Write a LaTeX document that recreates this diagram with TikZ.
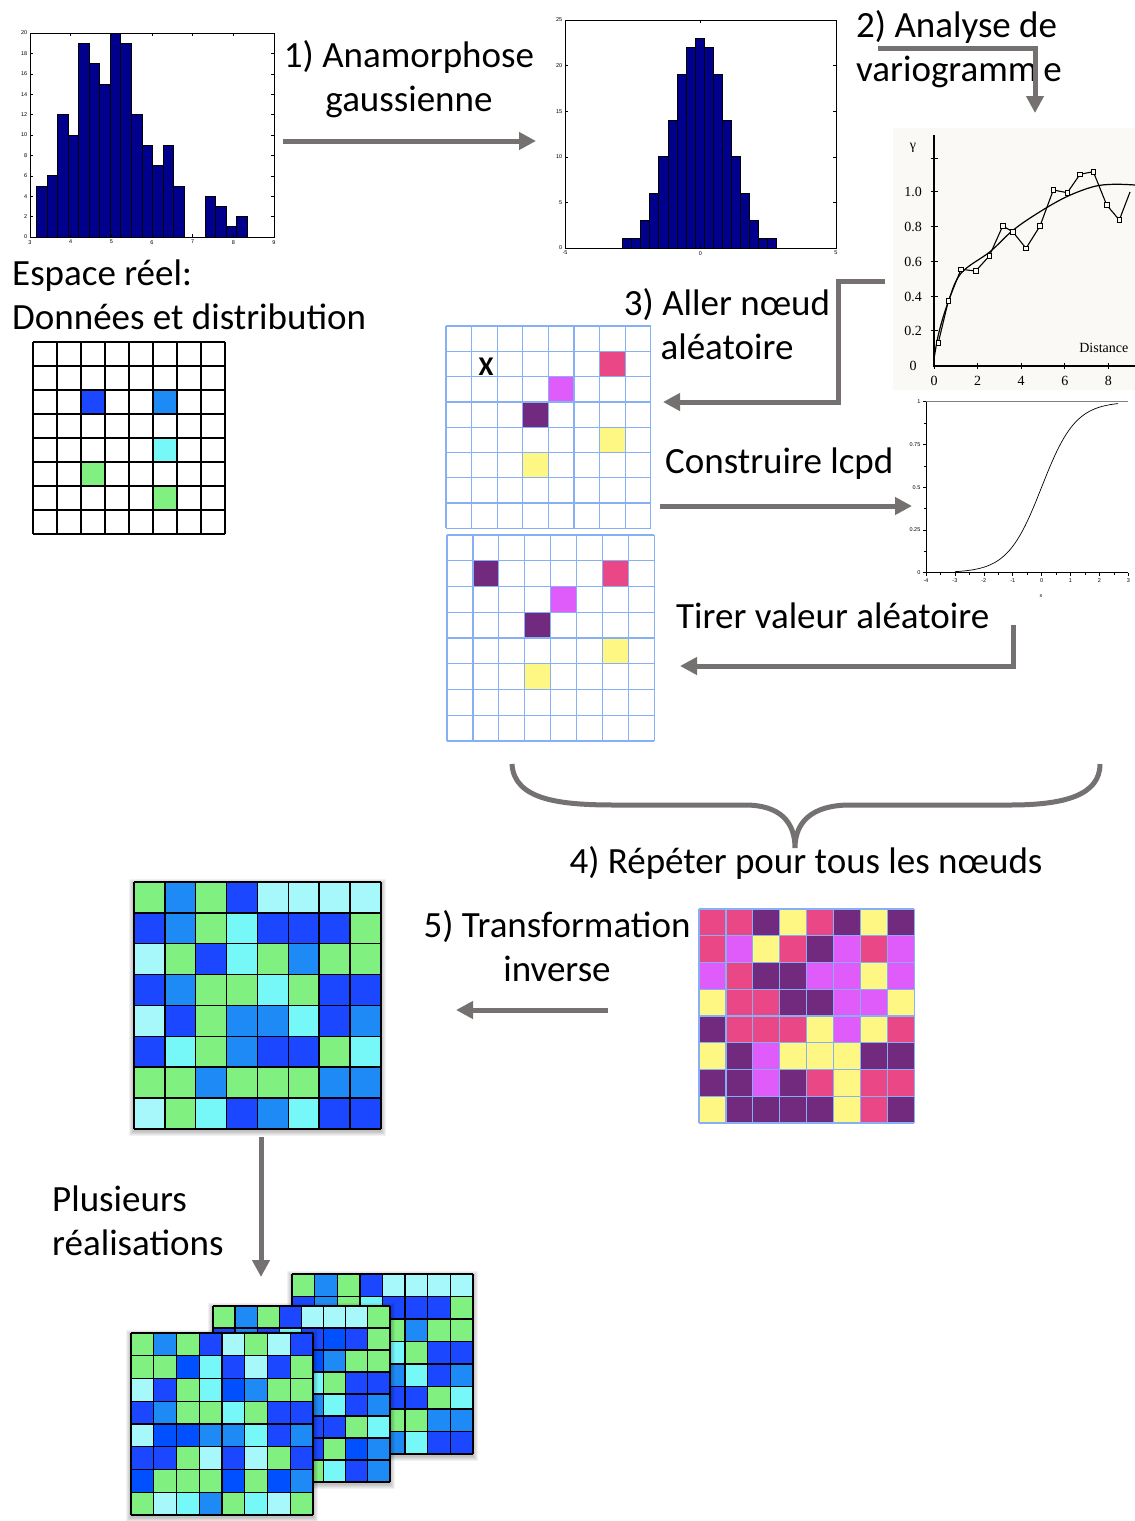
\documentclass[tikz,border=0pt]{standalone}
\usepackage{fontspec}
\setmainfont{Carlito}
\newfontfamily\tms{Liberation Serif}
\newfontfamily\hel{Liberation Sans}
\usetikzlibrary{arrows.meta}
\definecolor{arrowgray}{RGB}{118,113,113}
\definecolor{navybar}{RGB}{0,0,140}
\definecolor{cG}{RGB}{128,240,128}
\definecolor{cB}{RGB}{30,138,245}
\definecolor{cD}{RGB}{26,71,255}
\definecolor{cE}{RGB}{0,80,255}
\definecolor{cC}{RGB}{118,248,248}
\definecolor{cL}{RGB}{166,248,250}
\definecolor{cK}{RGB}{234,71,135}
\definecolor{cP}{RGB}{114,42,126}
\definecolor{cM}{RGB}{224,92,250}
\definecolor{cY}{RGB}{254,247,131}
\definecolor{cW}{RGB}{255,255,255}
\definecolor{gridblue}{RGB}{135,175,245}
\definecolor{vbg}{RGB}{250,249,245}
\newcommand\cellgrid[6]{%
  \foreach \rw [count=\ri] in {#5} {
    \foreach \cl [count=\kk] in \rw {
      \fill[fill=c\cl] ({#1+(\kk-1)*#3},{#2+(\ri-1)*#4}) rectangle ++(#3,#4);
    }
  }
  \foreach \ii in {0,...,8} {
    \draw[#6] ({#1+\ii*#3},#2) -- ({#1+\ii*#3},{#2+8*#4});
    \draw[#6] (#1,{#2+\ii*#4}) -- ({#1+8*#3},{#2+\ii*#4});
  }
}
\newcommand\gshadow[4]{%
  \foreach \s in {1,2,3,4,5} {
    \fill[black,opacity=0.05] ({#1-\s},{#2-\s+2}) rectangle ({#3+\s},{#4+\s+2});
  }
}
\tikzset{
  lbl/.style={font=\fontsize{37}{44}\selectfont, inner sep=0pt},
  tick/.style={font=\hel\fontsize{5.5}{6}\selectfont, inner sep=0.5pt},
  vtick/.style={font=\tms\fontsize{14}{16}\selectfont, inner sep=0.5pt},
  garrow/.style={line width=5pt, draw=arrowgray, -{Triangle[length=17pt,width=17pt]}},
  bar/.style={fill=navybar, draw=black, line width=0.9pt},
  bkgrid/.style={black, line width=1.4pt},
  blgrid/.style={gridblue, line width=1.3pt}
}
\begin{document}
\begin{tikzpicture}[x=1pt,y=-1pt]
\useasboundingbox (0,0) rectangle (1135,1521);
\fill[white] (0,0) rectangle (1135,1521);

% ---------- Histogram 1 ----------
\foreach \h [count=\i] in {5,6,12,10,19,17,15,20,19,12,9,7,9,5,0,0,4,3,1,2} {
  \ifnum\h>0 \filldraw[bar] ({36.7+(\i-1)*10.53},237) rectangle ++(10.53,{-\h*10.2}); \fi
}
\draw[line width=0.8pt] (30,33) rectangle (274,237);
\foreach \v [count=\n] in {0,2,...,20} {
  \draw[line width=0.6pt] (30,{237-\v*10.2}) -- ++(3,0);
  \draw[line width=0.6pt] (274,{237-\v*10.2}) -- ++(-3,0);
  \node[tick, anchor=east] (hay\n) at (28,{237-\v*10.2}) {\v};
}
\foreach \v [count=\n] in {3,...,9} {
  \draw[line width=0.6pt] ({30+(\v-3)*40.67},237) -- ++(0,-3);
  \draw[line width=0.6pt] ({30+(\v-3)*40.67},33) -- ++(0,3);
  \node[tick, anchor=north] (hax\n) at ({30+(\v-3)*40.67},239.5) {\v};
}

% ---------- Histogram 2 ----------
\foreach \h [count=\i] in {1,1,3,6,10,14,19,22,23,22,19,14,10,6,3,1,1} {
  \filldraw[bar] ({622.7+(\i-1)*9.06},248) rectangle ++(9.06,{-\h*9.12});
}
\draw[line width=0.8pt] (565,20) rectangle (836,248);
\foreach \v [count=\n] in {0,5,...,25} {
  \draw[line width=0.6pt] (565,{248-\v*9.12}) -- ++(3,0);
  \draw[line width=0.6pt] (836,{248-\v*9.12}) -- ++(-3,0);
  \node[tick, anchor=east] (hby\n) at (563,{248-\v*9.12}) {\v};
}
\foreach \v [count=\n] in {-5,0,5} {
  \draw[line width=0.6pt] ({565+(\v+5)*27.1},248) -- ++(0,-3);
  \draw[line width=0.6pt] ({565+(\v+5)*27.1},20) -- ++(0,3);
  \node[tick, anchor=north] (hbx\n) at ({565+(\v+5)*27.1},250.5) {\v};
}

% ---------- Variogram ----------
\fill[vbg] (893,128) rectangle (1135,390);
\draw[line width=1.2pt] (934,135) -- (934,366) -- (1135,366);
\foreach \yy in {158,191.7,226.7,261.7,296.7,330.7} {
  \draw[line width=1pt] (931,\yy) -- (938,\yy);
}
\foreach \t/\yy [count=\n] in {0/366,0.2/330.7,0.4/296.7,0.6/261.7,0.8/226.7,1.0/191.7} {
  \node[vtick] (vy\n) at (913,\yy) {\t};
}
\foreach \v [count=\n] in {0,2,4,6,8} {
  \draw[line width=1pt] ({934+21.8*\v},363) -- ({934+21.8*\v},369);
  \node[vtick] (vx\n) at ({934+21.8*\v},381) {\v};
}
\node[vtick] (gam) at (913,148) {γ};
\node[vtick, anchor=east] (dist) at (1129,348) {Distance};
\draw[line width=1.2pt] plot[smooth, tension=0.6] coordinates {(934.3,357) (939,332) (948.3,301.7) (961,273.3) (990,251.7) (1013.3,230) (1040,211.7) (1066.7,196.7) (1093.3,186.7) (1113.3,184.3) (1135,185)};
\draw[line width=1.1pt] (938.3,342.7) -- (948.3,301) -- (961,269.3) -- (975.7,271) -- (989.3,256) -- (1002.7,226) -- (1012.7,231.7) -- (1026,248.3) -- (1040,226) -- (1053.3,190) -- (1067.3,192.7) -- (1080,174.3) -- (1093.3,171.7) -- (1106.7,205) -- (1119.3,220) -- (1130,192);
\foreach \a/\b in {938.3/342.7,948.3/301,961/269.3,975.7/271,989.3/256,1002.7/226,1012.7/231.7,1026/248.3,1040/226,1053.3/190,1067.3/192.7,1080/174.3,1093.3/171.7,1106.7/205,1119.3/220} {
  \draw[line width=0.8pt, fill=vbg] (\a-2.3,\b-2.3) rectangle (\a+2.3,\b+2.3);
}

% ---------- CDF ----------
\draw[gray, line width=1.3pt] (926,401.7) -- (1128,401.7);
\draw[line width=0.8pt] (926,401.7) -- (926,572.7) -- (1128,572.7);
\foreach \v in {-4,...,3} {
  \draw[line width=0.6pt] ({926+(\v+4)*28.9},572.7) -- ++(0,3.5);
}
\foreach \v in {-3.5,-2.5,...,2.5} {
  \draw[line width=0.5pt] ({926+(\v+4)*28.9},572.7) -- ++(0,2);
}
\foreach \p in {0,0.25,0.5,0.75,1} {
  \draw[line width=0.6pt] (926,{572.7-171*\p}) -- ++(-3.5,0);
}
\foreach \p in {0.125,0.375,0.625,0.875} {
  \draw[line width=0.5pt] (926,{572.7-171*\p}) -- ++(-2,0);
}
\foreach \t/\p [count=\n] in {0/0,0.25/0.25,0.5/0.5,0.75/0.75,1/1} {
  \node[tick, anchor=east] (cy\n) at (921,{572.7-171*\p}) {\t};
}
\foreach \v [count=\n] in {-4,...,3} {
  \node[tick, anchor=north] (cx\n) at ({926+(\v+4)*28.9},578) {\v};
}
\node[tick] (cxl) at (1041,596) {x};
\draw[line width=0.7pt] plot[domain=-3:2.65, samples=80, smooth] ({926+(\x+4)*28.9},{572.7-171/(1+exp(-1.702*\x))});

% ---------- Data grid ----------
\cellgrid{33}{342}{24}{24}{{W,W,W,W,W,W,W,W},{W,W,W,W,W,W,W,W},{W,W,D,W,W,B,W,W},{W,W,W,W,W,W,W,W},{W,W,W,W,W,C,W,W},{W,W,G,W,W,W,W,W},{W,W,W,W,W,G,W,W},{W,W,W,W,W,W,W,W}}{bkgrid}

% ---------- Simulation grids ----------
\cellgrid{446}{326}{25.6}{25.3}{{W,W,W,W,W,W,W,W},{W,W,W,W,W,W,K,W},{W,W,W,W,M,W,W,W},{W,W,W,P,W,W,W,W},{W,W,W,W,W,W,Y,W},{W,W,W,Y,W,W,W,W},{W,W,W,W,W,W,W,W},{W,W,W,W,W,W,W,W}}{blgrid}
\node[font=\bfseries\fontsize{27}{30}\selectfont, inner sep=0pt] (xmark) at (486,367) {X};
\cellgrid{447}{535}{25.9}{25.75}{{W,W,W,W,W,W,W,W},{W,P,W,W,W,W,K,W},{W,W,W,W,M,W,W,W},{W,W,W,P,W,W,W,W},{W,W,W,W,W,W,Y,W},{W,W,W,Y,W,W,W,W},{W,W,W,W,W,W,W,W},{W,W,W,W,W,W,W,W}}{blgrid}

% ---------- Pink full grid ----------
\cellgrid{699}{909}{26.9}{26.75}{{K,K,P,Y,K,P,Y,P},{K,M,Y,K,P,M,K,M},{M,K,P,P,M,M,Y,M},{Y,K,K,P,P,M,M,Y},{P,K,K,K,Y,M,Y,K},{Y,P,M,Y,Y,Y,P,P},{P,P,M,P,K,Y,K,K},{Y,P,P,P,P,Y,K,P}}{blgrid}

% ---------- Result grid ----------
\gshadow{134}{882}{381}{1129}
\cellgrid{134}{882}{30.85}{30.85}{{G,B,G,D,L,L,L,L},{D,B,G,C,D,D,D,G},{L,G,D,C,G,B,G,G},{D,B,G,G,C,G,D,D},{L,D,G,B,B,C,D,B},{D,C,G,B,D,D,G,C},{G,G,B,G,G,G,B,B},{L,G,C,D,B,C,D,D}}{bkgrid}

% ---------- Stack of realisations ----------
\gshadow{292}{1274}{473}{1454}
\cellgrid{292}{1274}{22.6}{22.5}{{G,B,G,D,L,L,L,L},{D,B,G,C,D,D,D,G},{L,G,D,C,G,B,G,G},{D,B,G,G,C,G,D,D},{L,D,G,B,B,C,D,B},{D,C,G,B,D,D,G,C},{G,G,B,G,G,G,B,B},{L,G,C,D,B,C,D,D}}{bkgrid}
\gshadow{213}{1306}{390}{1482}
\cellgrid{213}{1306}{22.1}{22}{{G,B,G,D,L,L,L,G},{D,B,D,C,D,E,D,G},{G,G,E,C,E,B,G,G},{D,D,G,C,C,G,D,D},{D,B,B,G,B,C,D,B},{G,D,G,B,D,D,G,C},{B,G,G,D,D,G,E,B},{G,G,B,C,G,C,D,B}}{bkgrid}
\gshadow{131}{1333}{313}{1515}
\cellgrid{131}{1333}{22.75}{22.75}{{G,B,G,D,L,G,L,D},{G,G,E,C,D,L,D,G},{L,D,G,C,E,B,G,G},{D,B,G,G,C,G,D,D},{L,E,E,B,B,C,D,B},{D,D,G,L,D,L,G,D},{E,G,G,G,E,G,E,B},{G,L,C,B,G,C,L,G}}{bkgrid}

% ---------- Labels ----------
\node[lbl, anchor=base] (t1a) at (409,67) {1) Anamorphose};
\node[lbl, anchor=base] (t1b) at (409,111) {gaussienne};
\node[lbl, anchor=base west] (t2a) at (856,37) {2) Analyse de};
\node[lbl, anchor=base west] (t2b) at (856,81) {variogramm\hspace{6pt}e};
\node[lbl, anchor=base] (t3a) at (727,315) {3) Aller nœud};
\node[lbl, anchor=base] (t3b) at (727,359) {aléatoire};
\node[lbl, anchor=base west] (t4) at (665,473) {Construire lcpd};
\node[lbl, anchor=base west] (t5) at (676,628) {Tirer valeur aléatoire};
\node[lbl, anchor=base west] (t6a) at (12,285) {Espace réel:};
\node[lbl, anchor=base west] (t6b) at (12,329) {Données et distribution};
\node[lbl, anchor=base] (t7) at (806,873) {4) Répéter pour tous les nœuds};
\node[lbl, anchor=base] (t8a) at (557,937) {5) Transformation};
\node[lbl, anchor=base] (t8b) at (557,981) {inverse};
\node[lbl, anchor=base west] (t9a) at (52,1211) {Plusieurs};
\node[lbl, anchor=base west] (t9b) at (52,1255) {réalisations};

% ---------- Arrows ----------
\coordinate (a1s) at (283,141); \coordinate (a1e) at (536,141);
\draw[garrow] (a1s) -- (a1e);
\coordinate (a2s) at (878,48); \coordinate (a2e) at (1035,113);
\draw[garrow] (a2s) -| (a2e);
\coordinate (a3s) at (885,281); \coordinate (a3k1) at (838,281); \coordinate (a3k2) at (838,402); \coordinate (a3e) at (663,402);
\draw[garrow] (a3s) -- (a3k1) -- (a3k2) -- (a3e);
\coordinate (a4s) at (660,506); \coordinate (a4e) at (912,506);
\draw[garrow] (a4s) -- (a4e);
\coordinate (a5s) at (1013,625); \coordinate (a5k) at (1013,666); \coordinate (a5e) at (680,666);
\draw[garrow] (a5s) -- (a5k) -- (a5e);
\coordinate (a6s) at (608,1010); \coordinate (a6e) at (456,1010);
\draw[garrow] (a6s) -- (a6e);
\coordinate (a7s) at (261,1137); \coordinate (a7e) at (261,1277);
\draw[garrow] (a7s) -- (a7e);

% ---------- Brace ----------
\coordinate (brl) at (512,764); \coordinate (brr) at (1100,764); \coordinate (brc) at (795,848);
\draw[arrowgray, line width=5pt] (brl) .. controls (514,800) and (560,805) .. (615,805) -- (745,805) .. controls (780,805) and (795,822) .. (brc) .. controls (795,822) and (812,805) .. (850,805) -- (1010,805) .. controls (1065,805) and (1100,795) .. (brr);
\end{tikzpicture}
\end{document}
